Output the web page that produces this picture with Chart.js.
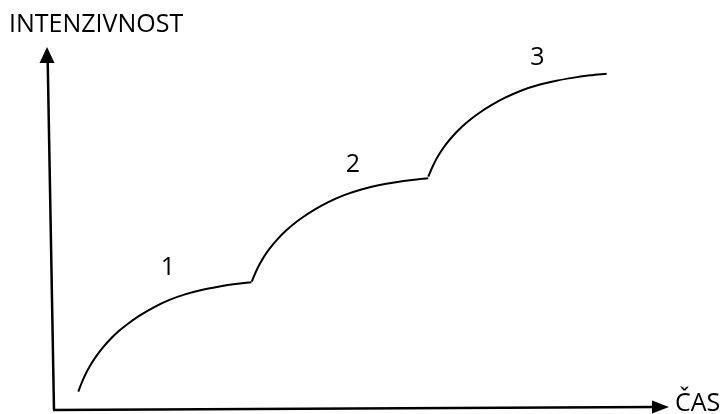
<!DOCTYPE html>
<html>
<head>
<meta charset="utf-8">
<script src="https://cdn.jsdelivr.net/npm/chart.js@4/dist/chart.umd.min.js"></script>
<style>
  html, body { margin: 0; padding: 0; background: #ffffff; }
  canvas { display: block; }
</style>
</head>
<body>
<canvas id="c" width="723" height="414"></canvas>
<script>
// Phase curves (time in % of axis length, intensity in % of axis height)
const phaseNames = ["1", "2", "3"];
const time1 = [3.95, 4.60, 5.24, 5.89, 6.71, 8.00, 9.30, 10.59, 12.03, 13.97, 16.08, 18.67, 21.43, 24.16, 26.92, 29.51, 32.10];
const intensity1 = [5.04, 7.87, 10.25, 12.27, 14.44, 17.31, 19.75, 21.80, 23.76, 26.05, 28.16, 30.27, 31.92, 33.13, 34.03, 34.70, 35.18];
const time2 = [32.15, 32.81, 33.47, 34.13, 34.96, 36.28, 37.60, 38.93, 40.39, 42.37, 44.52, 47.17, 49.98, 52.76, 55.58, 58.22, 60.86];
const intensity2 = [35.34, 38.02, 40.27, 42.18, 44.23, 46.94, 49.24, 51.18, 53.03, 55.20, 57.19, 59.19, 60.75, 61.89, 62.75, 63.37, 63.83];
const time3 = [60.86, 61.53, 62.19, 62.86, 63.70, 65.04, 66.37, 67.71, 69.19, 71.19, 73.36, 76.03, 78.88, 81.69, 84.53, 87.20, 89.87];
const intensity3 = [64.27, 66.94, 69.18, 71.08, 73.12, 75.82, 78.11, 80.04, 81.89, 84.04, 86.03, 88.02, 89.58, 90.71, 91.56, 92.19, 92.64];
const yAxisTitle = "INTENZIVNOST";
const xAxisTitle = "ČAS";

const series = [[time1, intensity1], [time2, intensity2], [time3, intensity3]];
const FONT = '"Open Sans", "DejaVu Sans", sans-serif';

const datasets = series.map(([xs, ys], i) => ({
  label: phaseNames[i],
  data: xs.map((x, k) => ({ x: x, y: ys[k] })),
  borderColor: '#000000',
  borderWidth: 2,
  pointRadius: 0,
  fill: false,
  cubicInterpolationMode: 'monotone',
  clip: false
}));

const axesPlugin = {
  id: 'arrowAxes',
  afterDraw(chart, args, opts) {
    const ctx = chart.ctx;
    const a = chart.chartArea;
    const xs = chart.scales.x, ys = chart.scales.y;
    ctx.save();
    ctx.strokeStyle = '#000';
    ctx.fillStyle = '#000';
    ctx.lineWidth = 2.5;
    const ox = a.left, oy = a.bottom;
    const yTipX = a.left - 7, yTipY = a.top;
    const xTipX = a.right, xTipY = a.bottom - 3;
    // y axis
    ctx.beginPath();
    ctx.moveTo(ox, oy);
    ctx.lineTo(yTipX + 0.7, yTipY + 14);
    ctx.stroke();
    ctx.beginPath();
    ctx.moveTo(yTipX, yTipY);
    ctx.lineTo(yTipX - 7.5, yTipY + 16);
    ctx.lineTo(yTipX + 7.5, yTipY + 16);
    ctx.closePath();
    ctx.fill();
    // x axis
    ctx.beginPath();
    ctx.moveTo(ox - 1, oy);
    ctx.lineTo(xTipX - 14, xTipY);
    ctx.stroke();
    ctx.beginPath();
    ctx.moveTo(xTipX, xTipY);
    ctx.lineTo(xTipX - 17, xTipY - 6.5);
    ctx.lineTo(xTipX - 17, xTipY + 6.5);
    ctx.closePath();
    ctx.fill();
    // axis titles
    ctx.font = '25px ' + FONT;
    ctx.textBaseline = 'alphabetic';
    ctx.textAlign = 'left';
    ctx.fillText(yAxisTitle, 9, 32);
    ctx.fillText(xAxisTitle, xTipX + 6, oy + 1);
    // phase labels
    ctx.textAlign = 'center';
    ctx.textBaseline = 'middle';
    opts.labels.forEach((p, i) => {
      ctx.fillText(phaseNames[i], xs.getPixelForValue(p[0]), ys.getPixelForValue(p[1]));
    });
    ctx.restore();
  }
};

new Chart(document.getElementById('c'), {
  type: 'line',
  data: { datasets: datasets },
  options: {
    responsive: false,
    animation: false,
    layout: { padding: { left: 54, right: 54, top: 47, bottom: 4 } },
    scales: {
      x: { type: 'linear', min: 0, max: 100, display: false },
      y: { type: 'linear', min: 0, max: 100, display: false }
    },
    plugins: {
      legend: { display: false },
      tooltip: { enabled: false },
      arrowAxes: { labels: [[18.5, 39.1], [48.6, 67.5], [78.6, 97.0]] }
    }
  },
  plugins: [axesPlugin]
});
</script>
</body>
</html>
